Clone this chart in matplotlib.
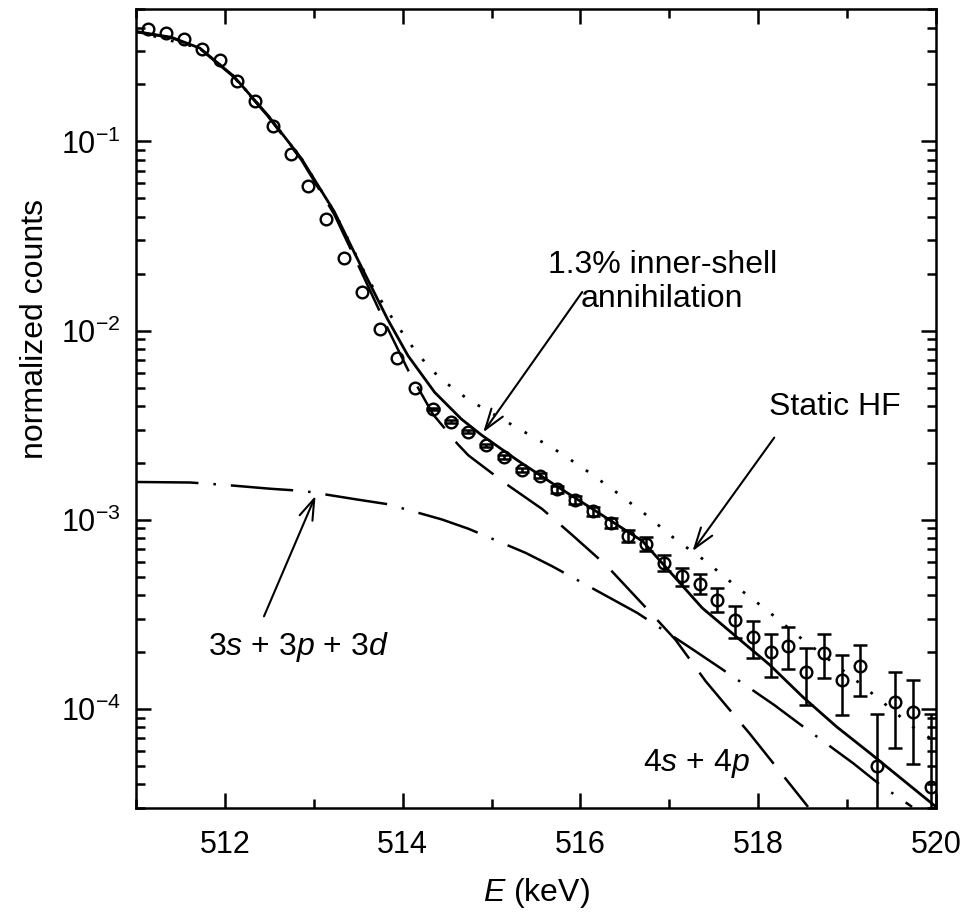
import matplotlib
matplotlib.use("Agg")
import matplotlib.pyplot as plt
from matplotlib.ticker import MultipleLocator, LogLocator

plt.rcParams['font.family'] = ['Liberation Sans', 'DejaVu Sans']
plt.rcParams['mathtext.fontset'] = 'custom'
plt.rcParams['mathtext.rm'] = 'Liberation Sans'
plt.rcParams['mathtext.it'] = 'Liberation Sans:italic'

# measured spectrum (open circles)
e_data = [511.14, 511.34, 511.54, 511.74, 511.94, 512.14, 512.34, 512.54, 512.74,
          512.94, 513.14, 513.34, 513.54, 513.74, 513.94, 514.14, 514.34, 514.54,
          514.74, 514.94, 515.14, 515.34, 515.54, 515.74, 515.94, 516.14, 516.34,
          516.54, 516.74, 516.94, 517.14, 517.34, 517.54, 517.74, 517.94, 518.14,
          518.34, 518.54, 518.74, 518.94, 519.14, 519.34, 519.54, 519.74, 519.94]
counts = [0.394, 0.373, 0.348, 0.308, 0.268, 0.209, 0.164, 0.121, 0.0863,
          0.0580, 0.0388, 0.0242, 0.0160, 0.0102, 0.00714, 0.00495, 0.00385, 0.00330,
          0.00292, 0.00248, 0.00214, 0.00184, 0.00171, 0.00145, 0.00127, 0.00111, 0.000966,
          0.000826, 0.000747, 0.000593, 0.000504, 0.000460, 0.000379, 0.000294, 0.000240, 0.000199,
          0.000216, 0.000157, 0.000198, 0.000143, 0.000168, 5.01e-5, 0.000109, 9.7e-5, 3.88e-5]
# error bars only drawn from 514.34 keV on
err_start = 16
errors = [5e-5, 5e-5, 5e-5, 5e-5, 5e-5, 5e-5, 5e-5, 6e-5, 6e-5, 6e-5, 6e-5, 6e-5,
          6e-5, 5.5e-5, 5.5e-5, 5.5e-5, 5.5e-5, 5.6e-5, 5.3e-5, 5.1e-5, 5.4e-5,
          5.2e-5, 5.2e-5, 5e-5, 5.1e-5, 4.4e-5, 4.7e-5, 4.6e-5, 5.5e-5]

# total fit (solid)
e_total = [511.0, 511.4, 511.72, 512.1, 512.48, 512.86, 513.23, 513.45, 513.61,
           513.83, 514.06, 514.36, 514.66, 514.89, 515.3, 515.72, 516.15, 516.7,
           517.37, 518.13, 518.5, 518.88, 519.26, 519.63, 520.0]
y_total = [0.381, 0.355, 0.311, 0.221, 0.138, 0.0813, 0.0426, 0.0262, 0.0185,
           0.0115, 0.00737, 0.00472, 0.00341, 0.0028, 0.00205, 0.00152, 0.00113, 0.00077,
           0.000342, 0.000171, 0.000116, 8.07e-5, 5.83e-5, 4.21e-5, 3.04e-5]

# 4s + 4p (dashed)
e_val = [511.0, 511.4, 511.72, 512.1, 512.48, 512.86, 513.23, 513.45, 513.61, 513.83,
         514.06, 514.34, 514.62, 514.74, 515.17, 515.57, 515.9, 516.3, 516.81, 517.07,
         517.41, 517.77, 517.9, 518.26, 518.56]
y_val = [0.379, 0.353, 0.309, 0.219, 0.1366, 0.0799, 0.0412, 0.0249, 0.0172, 0.0103,
         0.0062, 0.00362, 0.00251, 0.00219, 0.00154, 0.00114, 0.000837, 0.000569, 0.000315, 0.000232,
         0.00014, 8.8e-5, 7.45e-5, 4.57e-5, 3.04e-5]

# 3s + 3p + 3d (dash-dot)
e_core = [511.0, 511.61, 512.0, 512.51, 512.89, 513.49, 513.83, 514.44, 514.74, 515.38,
          515.68, 516.3, 516.64, 517.24, 517.58, 518.18, 518.48, 519.07, 519.35, 519.73]
y_core = [1.585e-3, 1.575e-3, 1.53e-3, 1.46e-3, 1.42e-3, 1.28e-3, 1.21e-3, 1.005e-3, 8.97e-4, 6.70e-4,
          5.69e-4, 3.94e-4, 3.22e-4, 2.10e-4, 1.64e-4, 1.05e-4, 8.24e-5, 5.16e-5, 4.05e-5, 3.04e-5]

# static HF (dotted)
e_hf = [511.0, 511.72, 512.1, 512.48, 512.86, 513.23, 513.61, 513.85, 513.98, 514.1,
        514.25, 514.4, 514.59, 514.76, 515.3, 515.68, 516.02, 516.36, 516.73, 517.07,
        517.41, 517.75, 518.09, 518.43, 519.14, 519.78, 519.97]
y_hf = [0.381, 0.311, 0.221, 0.138, 0.0813, 0.0426, 0.0187, 0.01227, 0.0100, 0.00833,
        0.00681, 0.00573, 0.00485, 0.00426, 0.00304, 0.00241, 0.00189, 0.00145, 0.00107, 0.000787,
        0.000604, 0.000445, 0.000335, 0.000247, 0.000137, 7.75e-5, 6.85e-5]

fig = plt.figure(figsize=(9.67, 9.17), dpi=100)
ax = fig.add_axes([0.1406, 0.1189, 0.968 - 0.1406, 0.990 - 0.1189])

ax.plot(e_total, y_total, color='black', lw=2.0, zorder=3)
ax.plot(e_val, y_val, color='black', lw=1.8, linestyle=(0, (20, 7)), zorder=2)
ax.plot(e_core, y_core, color='black', lw=1.8, linestyle=(0, (25, 6, 1, 6)), zorder=2)
ax.plot(e_hf, y_hf, color='black', lw=2.0, linestyle=(0, (1, 5.5)), zorder=2)

ax.errorbar(e_data[err_start:], counts[err_start:], yerr=errors, fmt='none',
            ecolor='black', elinewidth=1.8, capsize=4.8, capthick=1.8, zorder=4)
ax.plot(e_data, counts, 'o', ms=8.4, mfc='none', mec='black', mew=1.7, zorder=5)

ax.set_yscale('log')
ax.set_xlim(511, 520)
ax.set_ylim(3e-5, 0.5)

ax.xaxis.set_major_locator(MultipleLocator(2))
ax.xaxis.set_minor_locator(MultipleLocator(1))
ax.yaxis.set_minor_locator(LogLocator(base=10, subs=range(2, 10)))

ax.tick_params(which='both', direction='in', top=True, right=True, width=1.8)
ax.tick_params(which='major', length=10.5)
ax.tick_params(which='minor', length=6.5)
ax.tick_params(axis='x', which='major', labelsize=22, pad=16)
ax.tick_params(axis='y', which='major', labelsize=22, pad=11)
for s in ax.spines.values():
    s.set_linewidth(1.8)

ax.set_xlabel(r'$\it{E}$ (keV)', fontsize=23)
ax.xaxis.set_label_coords(0.5, -0.085)
ax.set_ylabel('normalized counts', fontsize=23)
ax.yaxis.set_label_coords(-0.108, 0.60)

arrow = dict(arrowstyle='->,head_length=0.6,head_width=0.2', lw=1.5,
             color='black', shrinkA=0, shrinkB=0, mutation_scale=25)

ax.text(516.92, 0.0181, '1.3% inner-shell\nannihilation', ha='center', va='center',
        fontsize=23, linespacing=1.2)
ax.annotate('', xy=(514.906, 2.9e-3), xytext=(516.02, 0.016), arrowprops=arrow)

ax.text(518.86, 3.94e-3, 'Static HF', ha='center', va='center', fontsize=23)
ax.annotate('', xy=(517.26, 6.83e-4), xytext=(518.18, 2.72e-3), arrowprops=arrow)

ax.text(512.83, 2.14e-4, r'3$\it{s}$ + 3$\it{p}$ + 3$\it{d}$', ha='center', va='center',
        fontsize=23)
ax.annotate('', xy=(513.02, 1.34e-3), xytext=(512.44, 3.09e-4), arrowprops=arrow)

ax.text(517.3, 5.16e-5, r'4$\it{s}$ + 4$\it{p}$', ha='center', va='center', fontsize=23)

fig.savefig('out.png', dpi=100)
